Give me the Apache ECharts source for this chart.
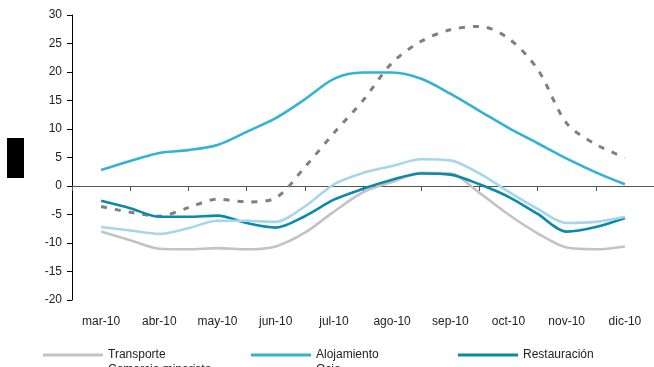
<!DOCTYPE html>
<html>
<head>
<meta charset="utf-8">
<script src="https://cdn.jsdelivr.net/npm/echarts@6/dist/echarts.min.js"></script>
<style>html,body{margin:0;padding:0;background:#fff;}#c{width:654px;height:367px;}</style>
</head>
<body>
<div id="c"></div>
<script>
const months = ['mar-10','abr-10','may-10','jun-10','jul-10','ago-10','sep-10','oct-10','nov-10','dic-10'];
const yTicks = [-20,-15,-10,-5,0,5,10,15,20,25,30];
// semi-monthly observations, from mid-mar to mid-dic
const transporte   = [-8.0,-9.5,-11.0,-11.1,-10.9,-11.1,-10.6,-8.2,-4.5,-1.1,0.7,2.3,2.2,-1.2,-5.0,-8.3,-10.8,-11.1,-10.6];
const alojamiento  = [2.8,4.4,5.8,6.3,7.2,9.5,11.9,15.2,18.8,19.9,19.9,18.8,16.2,13.2,10.2,7.5,4.8,2.4,0.3];
const restauracion = [-2.6,-3.9,-5.4,-5.4,-5.2,-6.5,-7.3,-5.3,-2.4,-0.5,1.1,2.2,2.0,0.3,-1.9,-4.9,-8.0,-7.2,-5.6];
const comercio     = [-7.2,-7.8,-8.4,-7.4,-6.1,-6.1,-6.3,-3.6,0.3,2.3,3.5,4.7,4.5,2.2,-1.0,-4.0,-6.5,-6.3,-5.4];
const ocio         = [-3.6,-4.6,-5.3,-3.8,-2.3,-2.8,-2.1,3.3,9.3,15.0,21.6,25.4,27.4,28.0,25.9,20.5,11.0,7.3,5.0];
const names = ['Transporte','Alojamiento','Restauración','Comercio minorista','Ocio'];
const colors = ['#c3c3c3','#33b3d4','#0a8aab','#a7d6ea','#808080'];
const seriesData = [transporte, alojamiento, restauracion, comercio, ocio];

const FONT = 'Liberation Sans, Arial, sans-serif';
const chart = echarts.init(document.getElementById('c'));
const series = seriesData.map((arr, i) => ({
  name: names[i],
  type: 'line',
  xAxisIndex: 2,
  data: arr.map((v, k) => [k / 2, v]),
  smooth: 0.3,
  symbol: 'none',
  lineStyle: { color: colors[i], width: i === 4 ? 3 : 2.6, type: i === 4 ? [6, 8] : 'solid' },
  itemStyle: { color: colors[i] },
  z: i === 4 ? 1 : 2 + (i === 1 ? 1 : 0)
}));
const legendPos = [[43, 349], [251, 349], [458, 349], [43, 364], [251, 364]];
chart.setOption({
  animation: false,
  backgroundColor: '#fff',
  grid: { left: 72, top: 15, width: 585, height: 285, containLabel: false },
  xAxis: [
    { type: 'category', data: months, boundaryGap: true, position: 'bottom',
      axisLine: { onZero: true, lineStyle: { color: '#555', width: 1 } },
      axisTick: { show: true, inside: false, length: 5, lineStyle: { color: '#555' } },
      axisLabel: { show: false }, splitLine: { show: false } },
    { type: 'category', data: months, boundaryGap: true, position: 'bottom',
      axisLine: { show: false, onZero: false }, axisTick: { show: false },
      axisLabel: { show: true, margin: 16, color: '#222', fontSize: 12, fontFamily: FONT, interval: 0 },
      splitLine: { show: false } },
    { type: 'value', min: -0.5, max: 9.5, show: false }
  ],
  yAxis: {
    type: 'value', min: yTicks[0], max: yTicks[yTicks.length - 1], interval: 5,
    axisLine: { show: true, onZero: false, lineStyle: { color: '#000', width: 1 } },
    axisTick: { show: true, inside: false, length: 5, lineStyle: { color: '#000' } },
    axisLabel: { color: '#222', fontSize: 12, fontFamily: FONT, margin: 10 },
    splitLine: { show: false }
  },
  legend: names.map((n, i) => ({
    data: [n], left: legendPos[i][0], top: legendPos[i][1], padding: 0,
    icon: 'rect', itemWidth: 60, itemHeight: 3, selectedMode: false,
    textStyle: { color: '#222', fontSize: 12, fontFamily: FONT }
  })),
  graphic: [
    { type: 'rect', left: 7, top: 138, shape: { width: 17, height: 40 }, style: { fill: '#000' } }
  ],
  series: series
});
</script>
</body>
</html>
